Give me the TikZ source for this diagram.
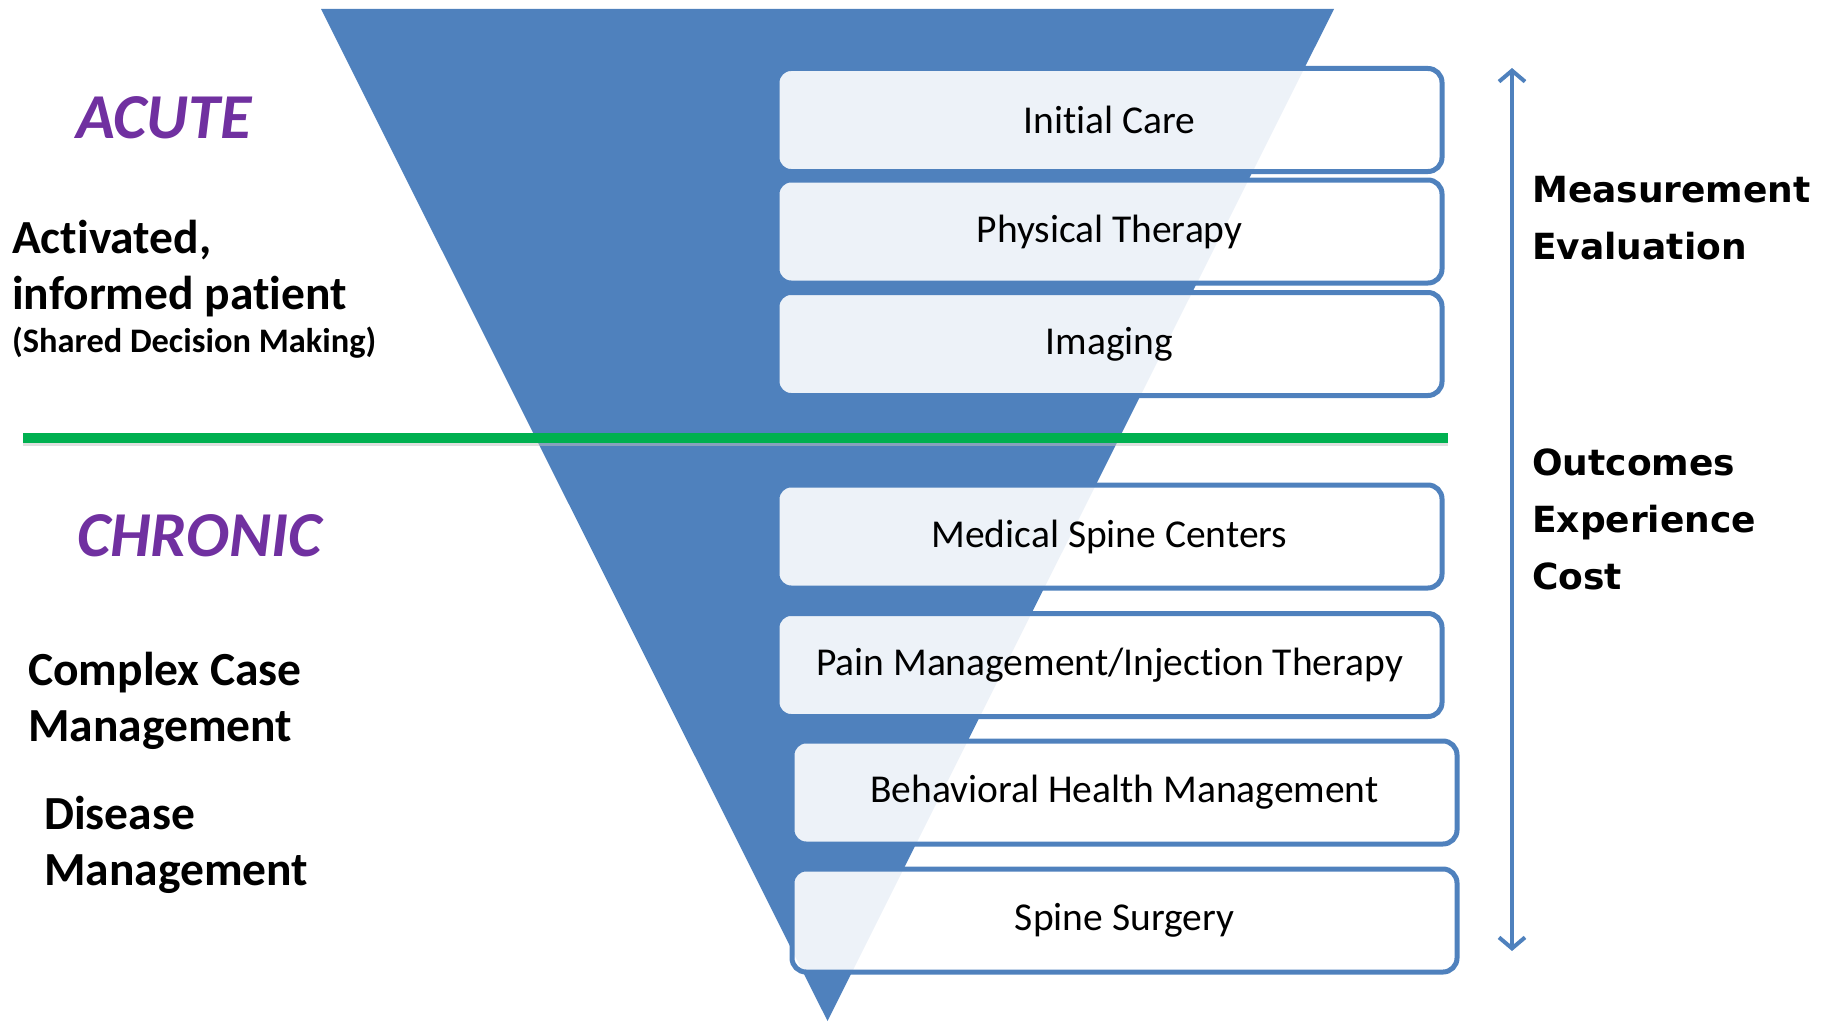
\documentclass[tikz,border=0pt]{standalone}
\usepackage{fontspec}
\setmainfont[Ligatures=NoCommon]{Carlito}
\newfontfamily\verd{DejaVu Sans}
\usetikzlibrary{arrows.meta}
\definecolor{obl}{RGB}{79,129,189}
\definecolor{ogr}{RGB}{0,176,80}
\definecolor{opu}{RGB}{112,48,160}
\tikzset{
  stepbox/.style={draw=obl, line width=5pt, rounded corners=14pt, fill=white, fill opacity=0.9, text opacity=1,
    minimum width=665pt, minimum height=103pt, inner sep=0pt, font=\fontsize{39.5}{46}\selectfont},
  phase/.style={anchor=base west, inner sep=0pt, text=opu, font=\fontsize{64}{70}\selectfont\bfseries\itshape},
  lefttxt/.style={anchor=base west, inner sep=0pt, font=\fontsize{47.5}{56}\selectfont\bfseries},
  smalltxt/.style={anchor=base west, inner sep=0pt, font=\fontsize{34.4}{40}\selectfont\bfseries},
  righttxt/.style={anchor=base west, inner sep=0pt, font=\verd\fontsize{36}{42}\selectfont\bfseries},
}
\begin{document}
\begin{tikzpicture}[x=1pt,y=-1pt]
\useasboundingbox (0,0) rectangle (1830,1022);
% funnel
\fill[obl] (321,9) -- (1334,9) -- (827.5,1021) -- cycle;
% green divider with shadow
\coordinate (gl) at (23,438);
\coordinate (gr) at (1448,438);
\draw[black!25, line width=8pt, opacity=0.5] ([yshift=-4pt]gl) -- ([yshift=-4pt]gr);
\draw[ogr, line width=10pt] (gl) -- (gr);
% boxes
\node[stepbox] (b1) at (1109.5,120) {Initial Care};
\node[stepbox] (b2) at (1109.5,231.5) {Physical Therapy};
\node[stepbox] (b3) at (1109.5,344) {Imaging};
\node[stepbox] (b4) at (1109.5,536.5) {Medical Spine Centers};
\node[stepbox] (b5) at (1109.5,665) {Pain Management/Injection Therapy};
\node[stepbox] (b6) at (1124.5,792.5) {Behavioral Health Management};
\node[stepbox] (b7) at (1124.5,920.5) {Spine Surgery};
% left texts
\node[phase] (acute) at (76,139) {ACUTE};
\node[lefttxt] (act1) at (12,253) {Activated,};
\node[lefttxt] (act2) at (12,309) {informed patient};
\node[smalltxt] (sdm) at (12,352) {(Shared Decision Making)};
\node[phase] (chronic) at (77,556) {CHRONIC};
\node[lefttxt] (cc1) at (28,685) {Complex Case};
\node[lefttxt] (cc2) at (28,741) {Management};
\node[lefttxt] (dm1) at (44,829) {Disease};
\node[lefttxt] (dm2) at (44,885) {Management};
% right arrow and texts
\coordinate (atop) at (1512,68);
\coordinate (abot) at (1512,951);
\draw[obl, line width=4pt, {Straight Barb[length=11pt,width=26pt,line width=4pt]}-{Straight Barb[length=11pt,width=26pt,line width=4pt]}] (atop) -- (abot);
\node[righttxt] (m1) at (1532,202) {Measurement};
\node[righttxt] (m2) at (1532,259) {Evaluation};
\node[righttxt] (o1) at (1532,475) {Outcomes};
\node[righttxt] (o2) at (1532,532) {Experience};
\node[righttxt] (o3) at (1532,589) {Cost};
\end{tikzpicture}
\end{document}
